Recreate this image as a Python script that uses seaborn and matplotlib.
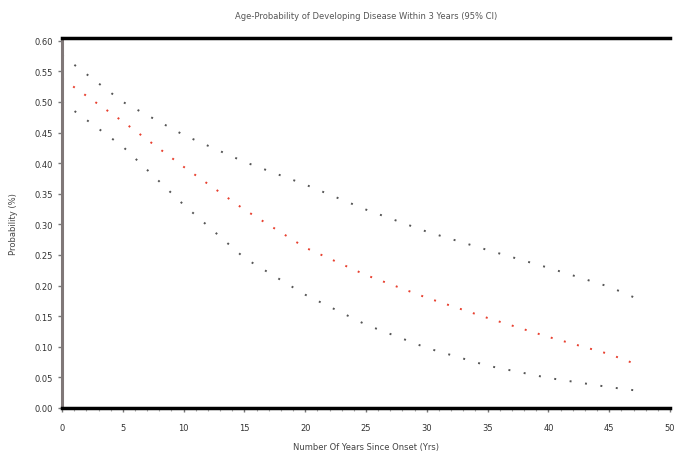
import pandas as pd
import matplotlib
matplotlib.use("Agg")
import matplotlib.pyplot as plt
import seaborn as sns
from matplotlib.ticker import MultipleLocator

# values
years = [0, 5, 10, 15, 20, 25, 30, 35, 40, 45, 47]
upper = [0.576, 0.500, 0.446, 0.402, 0.365, 0.324, 0.288, 0.258, 0.229, 0.198, 0.181]
mean = [0.538, 0.468, 0.394, 0.324, 0.262, 0.217, 0.180, 0.147, 0.116, 0.088, 0.073]
lower = [0.500, 0.427, 0.332, 0.245, 0.185, 0.136, 0.098, 0.069, 0.049, 0.034, 0.029]

df = pd.DataFrame({"years": years, "upper": upper, "mean": mean, "lower": lower})

sns.set_theme(style="white")
plt.rcParams["font.family"] = ["DejaVu Sans"]

fig = plt.figure(figsize=(6.75, 4.6), dpi=100)
ax = fig.add_axes([0.0919, 0.111, 0.9007, 0.805])

sns.lineplot(x="years", y="upper", data=df, ax=ax, color="#555555",
             linewidth=1.4, linestyle=(0, (1, 7)))
sns.lineplot(x="years", y="mean", data=df, ax=ax, color="#e8402f",
             linewidth=1.4, linestyle=(0, (1, 6)))
sns.lineplot(x="years", y="lower", data=df, ax=ax, color="#555555",
             linewidth=1.4, linestyle=(0, (1, 7)))

ax.set_xlim(0, 50)
ax.set_ylim(0, 0.605)
ax.xaxis.set_major_locator(MultipleLocator(5))
ax.xaxis.set_minor_locator(MultipleLocator(1))
ax.set_yticks([i * 0.05 for i in range(13)])
ax.tick_params(axis="both", which="major", labelsize=6, length=3, width=1,
               colors="#777777", labelcolor="#333333", left=True, bottom=True)
ax.tick_params(axis="x", which="major", pad=8)
ax.tick_params(axis="x", which="minor", length=2, width=0.8, colors="#aaaaaa", bottom=True)
ax.set_yticklabels([f"{i * 0.05:.2f}" for i in range(13)])

ax.spines["right"].set_visible(False)
ax.spines["left"].set_color("#807878")
ax.spines["left"].set_linewidth(2.2)
ax.spines["bottom"].set_color("black")
ax.spines["bottom"].set_linewidth(2.5)
ax.spines["top"].set_color("black")
ax.spines["top"].set_linewidth(2.5)

ax.set_title("Age-Probability of Developing Disease Within 3 Years (95% CI)",
             fontsize=6, color="#555555", pad=14)
ax.set_xlabel("Number Of Years Since Onset (Yrs)", fontsize=6, color="#444444", labelpad=7)
ax.set_ylabel("Probability (%)", fontsize=6, color="#444444", labelpad=12)

plt.savefig("out.png", dpi=100)
plt.close()
